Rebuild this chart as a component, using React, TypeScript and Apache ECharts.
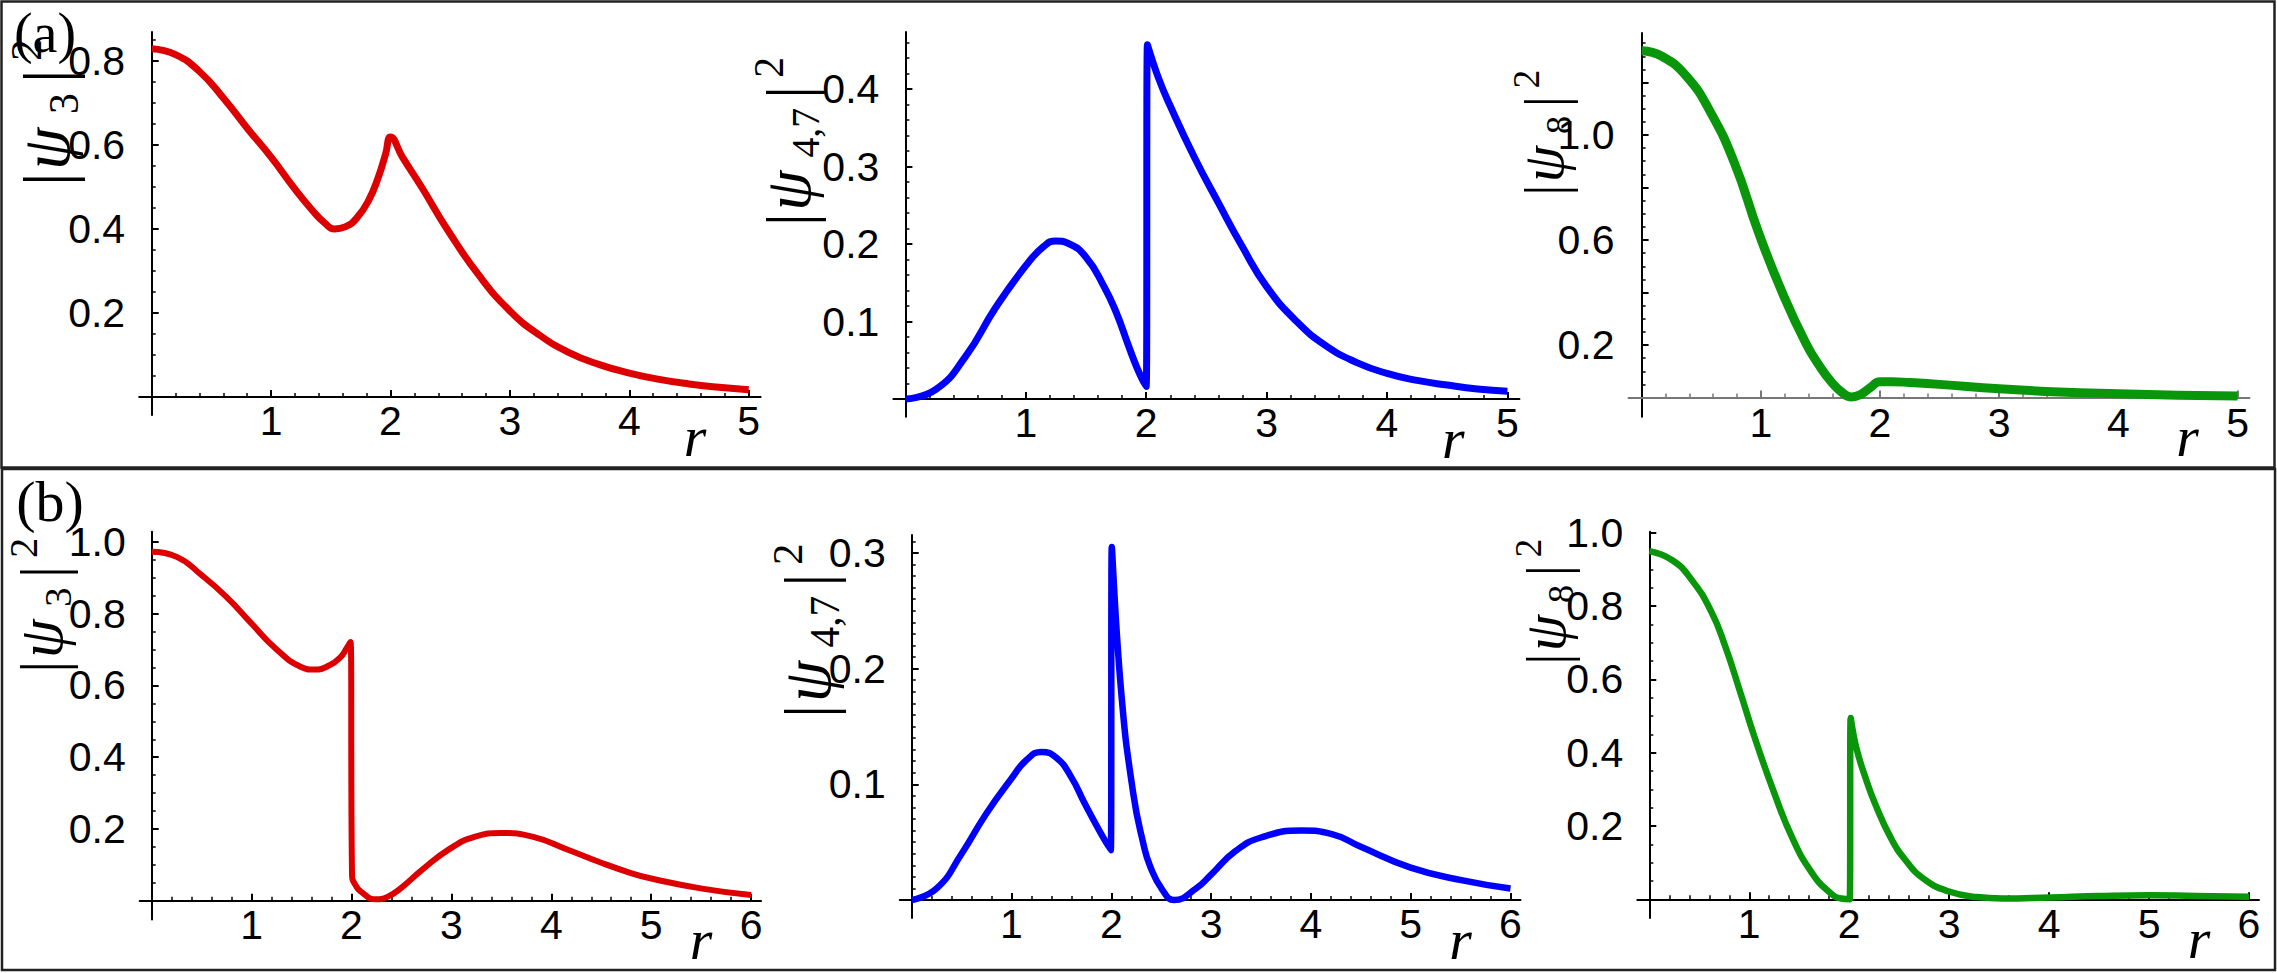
import React, { useEffect, useRef } from 'react';
import * as echarts from 'echarts';

// ---------------- data ----------------
// Panel (a)
const psi3A: number[][] = [
  [0, 0.829], [0.2, 0.815], [0.4, 0.775], [0.6, 0.712], [0.8, 0.64], [1.0, 0.571], [1.2, 0.495],
  [1.35, 0.443], [1.45, 0.414], [1.53, 0.4], [1.62, 0.405], [1.72, 0.427], [1.82, 0.47], [1.9, 0.525],
  [1.96, 0.58], [2.0, 0.619], [2.1, 0.571], [2.26, 0.5], [2.48, 0.397], [2.74, 0.29], [3.0, 0.205],
  [3.25, 0.147], [3.5, 0.105], [3.75, 0.077], [4.0, 0.057], [4.25, 0.042], [4.5, 0.031], [4.75, 0.023], [5.0, 0.017],
];
const psi47A: number[][] = [
  [0, 0], [0.25, 0.012], [0.5, 0.055], [0.75, 0.118], [1.0, 0.172], [1.15, 0.197], [1.25, 0.204],
  [1.35, 0.201], [1.5, 0.183], [1.65, 0.145], [1.75, 0.112], [1.85, 0.07], [1.93, 0.038], [2.0, 0.016],
  [2.01, 0.457], [2.1, 0.415], [2.2, 0.378], [2.4, 0.312], [2.6, 0.253], [2.8, 0.196], [3.0, 0.145],
  [3.25, 0.1], [3.5, 0.068], [3.75, 0.047], [4.0, 0.033], [4.25, 0.024], [4.5, 0.018], [4.75, 0.013], [5.0, 0.01],
];
const psi8A: number[][] = [
  [0, 1.321], [0.17, 1.3], [0.38, 1.222], [0.58, 1.085], [0.78, 0.892], [0.98, 0.63], [1.18, 0.4],
  [1.38, 0.205], [1.5, 0.115], [1.6, 0.055], [1.68, 0.02], [1.76, 0.002], [1.84, 0.012], [1.92, 0.038],
  [2.0, 0.06], [2.1, 0.06], [2.25, 0.057], [2.5, 0.05], [3.0, 0.033], [3.5, 0.021], [4.0, 0.014], [4.5, 0.009], [5.0, 0.006],
];
// Panel (b)
const psi3B: number[][] = [
  [0, 0.972], [0.25, 0.958], [0.5, 0.907], [0.75, 0.846], [1.0, 0.772], [1.24, 0.703], [1.49, 0.652],
  [1.63, 0.644], [1.78, 0.656], [1.89, 0.679], [1.95, 0.703], [1.99, 0.721], [2.005, 0.076], [2.03, 0.048],
  [2.12, 0.02], [2.24, 0.004], [2.36, 0.011], [2.51, 0.039], [2.7, 0.085], [2.99, 0.146], [3.23, 0.178],
  [3.5, 0.189], [3.82, 0.178], [4.16, 0.143], [4.5, 0.106], [4.79, 0.078], [5.0, 0.062], [5.51, 0.034], [6.0, 0.016],
];
const psi47B: number[][] = [
  [0, 0], [0.25, 0.01], [0.5, 0.04], [0.75, 0.075], [1.0, 0.105], [1.15, 0.121], [1.3, 0.128], [1.45, 0.123],
  [1.6, 0.106], [1.73, 0.084], [1.88, 0.06], [1.995, 0.043], [2.005, 0.305], [2.1, 0.179], [2.22, 0.092],
  [2.32, 0.049], [2.39, 0.029], [2.51, 0.009], [2.63, 0.0], [2.85, 0.01], [3.0, 0.022], [3.24, 0.042],
  [3.5, 0.054], [3.91, 0.06], [4.21, 0.057], [4.5, 0.046], [5.0, 0.028], [5.52, 0.017], [6.0, 0.01],
];
const psi8B: number[][] = [
  [0, 0.95], [0.23, 0.925], [0.42, 0.873], [0.62, 0.785], [0.76, 0.69], [0.91, 0.565], [1.05, 0.445],
  [1.25, 0.29], [1.44, 0.162], [1.63, 0.071], [1.8, 0.02], [1.92, 0.002], [2.005, 0.0], [2.015, 0.495],
  [2.07, 0.415], [2.17, 0.326], [2.26, 0.26], [2.41, 0.171], [2.56, 0.108], [2.75, 0.055], [2.99, 0.022],
  [3.28, 0.006], [3.53, 0.002], [4.01, 0.005], [4.5, 0.009], [5.0, 0.011], [5.47, 0.009], [6.0, 0.007],
];

// tick labels
const xLabelsA = [1, 2, 3, 4, 5];
const xLabelsB = [1, 2, 3, 4, 5, 6];
const yLabelsA3 = [0.2, 0.4, 0.6, 0.8];
const yLabelsA47 = [0.1, 0.2, 0.3, 0.4];
const yLabelsA8 = [0.2, 0.6, 1.0];
const yLabelsB3 = [0.2, 0.4, 0.6, 0.8, 1.0];
const yLabelsB47 = [0.1, 0.2, 0.3];
const yLabelsB8 = [0.2, 0.4, 0.6, 0.8, 1.0];

const sub3 = '3';
const sub47 = '4,7';
const sub8 = '8';

// ---------------- layout ----------------
const W = 2277;
const H = 973;
const RED = '#dd0000';
const BLUE = '#0000ff';
const GREEN = '#0a960a';

interface Panel {
  data: number[][]; color: string; lw: number; sub: string; subW: number;
  ox: number; oy: number; kx: number; ky: number;
  xMin: number; xMax: number; yMin: number; yMax: number;
  xLabels: number[]; yLabels: number[]; yMajorStep: number; yMinorStep: number; xMinorStep: number;
  xAxisColor: string; nameX: number; nameY: number; nameScale: number; rPos: number;
}

const panels: Panel[] = [
  { data: psi3A, color: RED, lw: 7, sub: sub3, subW: 21, ox: 151.7, oy: 397, kx: 119.4, ky: 420, xMin: -0.105, xMax: 5.1,
    yMin: -0.043, yMax: 0.869, xLabels: xLabelsA, yLabels: yLabelsA3, yMajorStep: 0.2, yMinorStep: 0.05, xMinorStep: 0.2,
    xAxisColor: '#000', nameX: 14, nameY: 186, nameScale: 1, rPos: 4.55 },
  { data: psi47A, color: BLUE, lw: 7, sub: sub47, subW: 52, ox: 905.4, oy: 399, kx: 120.4, ky: 775, xMin: -0.1, xMax: 5.1,
    yMin: -0.023, yMax: 0.4735, xLabels: xLabelsA, yLabels: yLabelsA47, yMajorStep: 0.1, yMinorStep: 0.02, xMinorStep: 0.2,
    xAxisColor: '#000', nameX: 758, nameY: 226, nameScale: 0.95, rPos: 4.55 },
  { data: psi8A, color: GREEN, lw: 9, sub: sub8, subW: 21, ox: 1641.6, oy: 397.5, kx: 119.2, ky: 262.5, xMin: -0.11, xMax: 5.1,
    yMin: -0.073, yMax: 1.389, xLabels: xLabelsA, yLabels: yLabelsA8, yMajorStep: 0.2, yMinorStep: 0.05, xMinorStep: 0.2,
    xAxisColor: '#777', nameX: 1516, nameY: 196, nameScale: 0.86, rPos: 4.58 },
  { data: psi3B, color: RED, lw: 6, sub: sub3, subW: 21, ox: 151.7, oy: 900.8, kx: 99.9, ky: 359, xMin: -0.12, xMax: 6.1,
    yMin: -0.052, yMax: 1.028, xLabels: xLabelsB, yLabels: yLabelsB3, yMajorStep: 0.2, yMinorStep: 0.05, xMinorStep: 0.2,
    xAxisColor: '#000', nameX: 12, nameY: 673, nameScale: 0.92, rPos: 5.5 },
  { data: psi47B, color: BLUE, lw: 6.5, sub: sub47, subW: 52, ox: 911.7, oy: 900, kx: 99.8, ky: 1157, xMin: -0.12, xMax: 6.1,
    yMin: -0.0156, yMax: 0.3155, xLabels: xLabelsB, yLabels: yLabelsB47, yMajorStep: 0.1, yMinorStep: 0.01, xMinorStep: 0.2,
    xAxisColor: '#000', nameX: 776, nameY: 718, nameScale: 0.98, rPos: 5.5 },
  { data: psi8B, color: GREEN, lw: 6.5, sub: sub8, subW: 21, ox: 1649.3, oy: 899.3, kx: 99.95, ky: 366.5, xMin: -0.12, xMax: 6.1,
    yMin: -0.051, yMax: 1.003, xLabels: xLabelsB, yLabels: yLabelsB8, yMajorStep: 0.2, yMinorStep: 0.05, xMinorStep: 0.2,
    xAxisColor: '#000', nameX: 1518, nameY: 665, nameScale: 0.86, rPos: 5.5 },
];

function steps(step: number, max: number): number[] {
  const out: number[] = [];
  for (let k = 1; k * step <= max + 1e-9; k++) out.push(Math.round(k * step * 1e6) / 1e6);
  return out;
}

const SERIF = 'Liberation Serif';

// rotated y-axis title |ψ_sub|^2 (reads bottom to top)
function nameGroup(p: Panel) {
  const t = (text: string, x: number, y: number, size: number, italic = false) => ({
    type: 'text', x, y,
    style: { text, fontSize: size, fontStyle: italic ? 'italic' : 'normal', fontFamily: SERIF, fill: '#000', align: 'left', verticalAlign: 'middle' },
  });
  const subX = 72;
  const bar2X = subX + p.subW + 10;
  return {
    type: 'group', x: p.nameX, y: p.nameY, rotation: Math.PI / 2, scaleX: p.nameScale, scaleY: p.nameScale,
    children: [
      t('|', 0, 34, 68),
      t('ψ', 16, 32, 68, true),
      t(p.sub, subX, 50, 42),
      t('|', bar2X, 34, 68),
      t('2', bar2X + 22, 12, 44),
    ],
  };
}

function buildOption() {
  const grids: any[] = [];
  const xAxes: any[] = [];
  const yAxes: any[] = [];
  const series: any[] = [];
  const graphics: any[] = [
    { type: 'rect', shape: { x: 1.5, y: 1.5, width: 2273, height: 466 }, style: { fill: 'none', stroke: '#222', lineWidth: 2.5 } },
    { type: 'rect', shape: { x: 2, y: 469, width: 2273, height: 501 }, style: { fill: 'none', stroke: '#222', lineWidth: 2.5 } },
    { type: 'text', x: 45, y: 5, style: { text: '(a)', fontSize: 56, fontFamily: SERIF, fill: '#000', align: 'center', verticalAlign: 'top' } },
    { type: 'text', x: 50, y: 472, style: { text: '(b)', fontSize: 58, fontFamily: SERIF, fill: '#000', align: 'center', verticalAlign: 'top' } },
  ];

  panels.forEach((p, i) => {
    grids.push({
      left: p.ox + p.xMin * p.kx,
      top: p.oy - p.yMax * p.ky,
      width: (p.xMax - p.xMin) * p.kx,
      height: (p.yMax - p.yMin) * p.ky,
      containLabel: false,
      outerBoundsMode: 'none',
      show: false,
    });
    const xMajor = steps(1, p.xMax);
    const xMinor = steps(p.xMinorStep, p.xMax).filter((v) => !xMajor.some((m) => Math.abs(m - v) < 1e-6));
    const yMajor = steps(p.yMajorStep, p.yMax);
    const yMinor = steps(p.yMinorStep, p.yMax).filter((v) => !yMajor.some((m) => Math.abs(m - v) < 1e-6));

    const labelStyle = { color: '#000', fontSize: 41, fontFamily: 'Liberation Sans', lineHeight: 40 };

    xAxes.push({
      type: 'value', gridIndex: i, position: 'bottom', min: p.xMin, max: p.xMax,
      axisLine: { show: true, onZero: true, onZeroAxisIndex: 2 * i, lineStyle: { color: p.xAxisColor, width: 2 } },
      axisTick: { show: true, inside: true, length: 7, customValues: xMajor, lineStyle: { color: p.xAxisColor, width: 2 } },
      axisLabel: { show: true, customValues: p.xLabels, formatter: (v: number) => String(Math.round(v)), margin: -14, ...labelStyle },
      splitLine: { show: false },
    });
    xAxes.push({
      type: 'value', gridIndex: i, position: 'bottom', min: p.xMin, max: p.xMax,
      axisLine: { show: false, onZero: true, onZeroAxisIndex: 2 * i },
      axisTick: { show: true, inside: true, length: 4, customValues: xMinor, lineStyle: { color: p.xAxisColor, width: 1.5 } },
      axisLabel: { show: false },
      splitLine: { show: false },
    });
    yAxes.push({
      type: 'value', gridIndex: i, position: 'left', min: p.yMin, max: p.yMax,
      axisLine: { show: true, onZero: true, onZeroAxisIndex: 2 * i, lineStyle: { color: '#000', width: 2 } },
      axisTick: { show: true, inside: true, length: 7, customValues: yMajor, lineStyle: { color: '#000', width: 2 } },
      axisLabel: { show: true, customValues: p.yLabels, formatter: (v: number) => v.toFixed(1), margin: 14, ...labelStyle },
      splitLine: { show: false },
    });
    yAxes.push({
      type: 'value', gridIndex: i, position: 'left', min: p.yMin, max: p.yMax,
      axisLine: { show: false, onZero: true, onZeroAxisIndex: 2 * i },
      axisTick: { show: true, inside: true, length: 4, customValues: yMinor, lineStyle: { color: '#000', width: 1.5 } },
      axisLabel: { show: false },
      splitLine: { show: false },
    });
    series.push({
      type: 'line', xAxisIndex: 2 * i, yAxisIndex: 2 * i, data: p.data, showSymbol: false, symbol: 'none',
      smooth: 0.5, clip: false, z: 5,
      lineStyle: { color: p.color, width: p.lw, cap: 'butt', join: 'round' },
    });
    graphics.push(nameGroup(p));
    graphics.push({
      type: 'text', x: p.ox + p.rPos * p.kx, y: p.oy + 68,
      style: { text: 'r', fontSize: 58, fontStyle: 'italic', fontFamily: SERIF, fill: '#000', align: 'center', verticalAlign: 'bottom' },
    });
  });

  return {
    animation: false,
    backgroundColor: '#ffffff',
    textStyle: { fontFamily: 'Liberation Sans' },
    grid: grids,
    xAxis: xAxes,
    yAxis: yAxes,
    series,
    graphic: graphics,
  };
}

export default function App() {
  const ref = useRef<HTMLDivElement>(null);
  useEffect(() => {
    document.body.style.margin = '0';
    const chart = echarts.init(ref.current as HTMLDivElement, null, { renderer: 'svg', width: W, height: H });
    chart.setOption(buildOption() as any);
    return () => chart.dispose();
  }, []);
  return <div ref={ref} style={{ position: 'absolute', left: 0, top: 0, width: W, height: H, background: '#fff' }} />;
}
